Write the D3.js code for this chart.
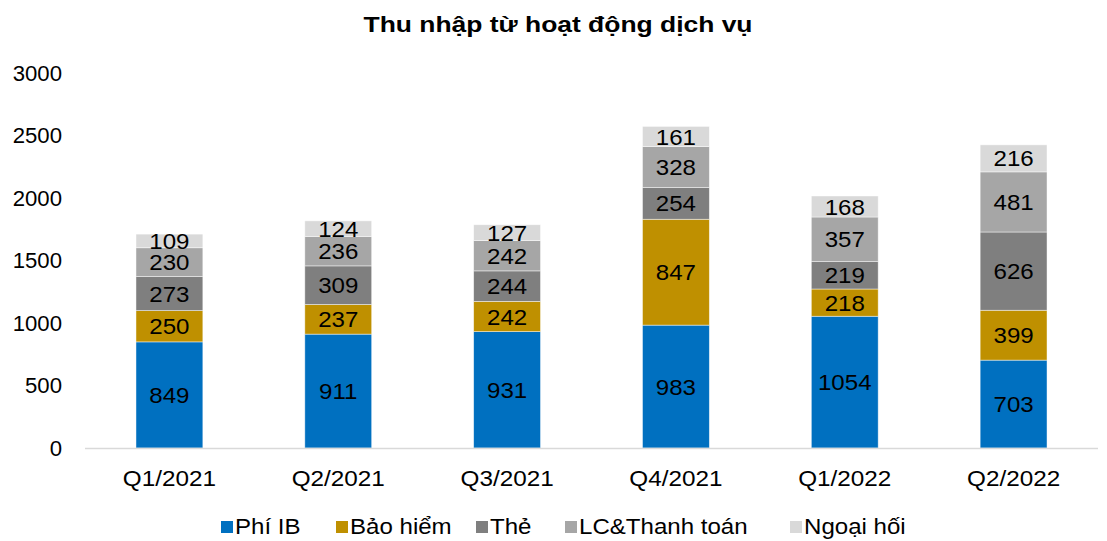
<!DOCTYPE html>
<html>
<head>
<meta charset="utf-8">
<script src="https://cdn.jsdelivr.net/npm/d3@7"></script>
<style>
  body { margin: 0; background: #fff; }
  svg { font-family: "Liberation Sans", Arial, sans-serif; }
</style>
</head>
<body>
<div id="chart"></div>
<script>
///// DATA /////
const quarters = ["Q1/2021", "Q2/2021", "Q3/2021", "Q4/2021", "Q1/2022", "Q2/2022"];
const seriesNames = ["Phí IB", "Bảo hiểm", "Thẻ", "LC&Thanh toán", "Ngoại hối"];
const phiIB = [849, 911, 931, 983, 1054, 703];
const baoHiem = [250, 237, 242, 847, 218, 399];
const the = [273, 309, 244, 254, 219, 626];
const lcThanhToan = [230, 236, 242, 328, 357, 481];
const ngoaiHoi = [109, 124, 127, 161, 168, 216];
const yTicks = [0, 500, 1000, 1500, 2000, 2500, 3000];
const colors = ["#0070C0", "#BF9000", "#7F7F7F", "#A6A6A6", "#D9D9D9"];

///// CHART /////
const width = 1107, height = 541;
const margin = { top: 73, right: 9, bottom: 93, left: 85 };

// text in the reference is a bit wider than it is tall, so stretch it sideways
const place = (x, y, sx) => `translate(${x},${y}) scale(${sx},1)`;

const svg = d3.select("#chart").append("svg")
    .attr("width", width)
    .attr("height", height);

const rows = quarters.map((q, i) => ({
    quarter: q,
    "Phí IB": phiIB[i],
    "Bảo hiểm": baoHiem[i],
    "Thẻ": the[i],
    "LC&Thanh toán": lcThanhToan[i],
    "Ngoại hối": ngoaiHoi[i]
}));

const stack = d3.stack().keys(seriesNames)(rows);

const x = d3.scaleBand()
    .domain(quarters)
    .range([margin.left, width - margin.right])
    .paddingInner(0.604)
    .paddingOuter(0.302);

const y = d3.scaleLinear()
    .domain([0, 3000])
    .range([height - margin.bottom, margin.top]);

const color = d3.scaleOrdinal(seriesNames, colors);

// title
svg.append("text")
    .attr("transform", place(558, 32, 1.23))
    .attr("text-anchor", "middle")
    .style("font-size", "21.5px")
    .style("font-weight", "bold")
    .text("Thu nhập từ hoạt động dịch vụ");

// y axis labels (no line)
svg.append("g")
    .selectAll("text")
    .data(yTicks)
    .join("text")
    .attr("transform", d => place(62, y(d), 1.03))
    .attr("dy", "0.36em")
    .attr("text-anchor", "end")
    .style("font-size", "21.5px")
    .attr("fill", "#000")
    .text(d => d);

// bars
const layer = svg.append("g")
    .selectAll("g")
    .data(stack)
    .join("g")
    .attr("fill", d => color(d.key));

layer.selectAll("rect")
    .data(d => d)
    .join("rect")
    .attr("x", d => x(d.data.quarter))
    .attr("y", d => y(d[1]))
    .attr("width", x.bandwidth())
    .attr("height", d => y(d[0]) - y(d[1]))
    .attr("stroke", "#fff")
    .attr("stroke-opacity", 0.6)
    .attr("stroke-width", 0.75);

// value labels
layer.selectAll("text")
    .data(d => d)
    .join("text")
    .attr("transform", d => place(x(d.data.quarter) + x.bandwidth() / 2, (y(d[0]) + y(d[1])) / 2, 1.07))
    .attr("dy", "0.36em")
    .attr("text-anchor", "middle")
    .attr("fill", "#000")
    .style("font-size", "22.5px")
    .text(d => d[1] - d[0]);

// baseline
svg.append("line")
    .attr("x1", margin.left)
    .attr("x2", width - margin.right)
    .attr("y1", y(0) + 0.5)
    .attr("y2", y(0) + 0.5)
    .attr("stroke", "#D9D9D9")
    .attr("stroke-width", 1.5);

// x axis labels
svg.append("g")
    .selectAll("text")
    .data(quarters)
    .join("text")
    .attr("transform", d => place(x(d) + x.bandwidth() / 2, 486, 1.08))
    .attr("text-anchor", "middle")
    .style("font-size", "22.5px")
    .text(d => d);

// legend
const legendX = [221, 336, 476, 565, 790];
const legend = svg.append("g")
    .selectAll("g")
    .data(seriesNames)
    .join("g")
    .attr("transform", (d, i) => `translate(${legendX[i]},0)`);

legend.append("rect")
    .attr("x", 0)
    .attr("y", 521)
    .attr("width", 12)
    .attr("height", 12)
    .attr("fill", d => color(d));

legend.append("text")
    .attr("transform", place(14, 534, 1.12))
    .style("font-size", "21.5px")
    .text(d => d);
</script>
</body>
</html>
